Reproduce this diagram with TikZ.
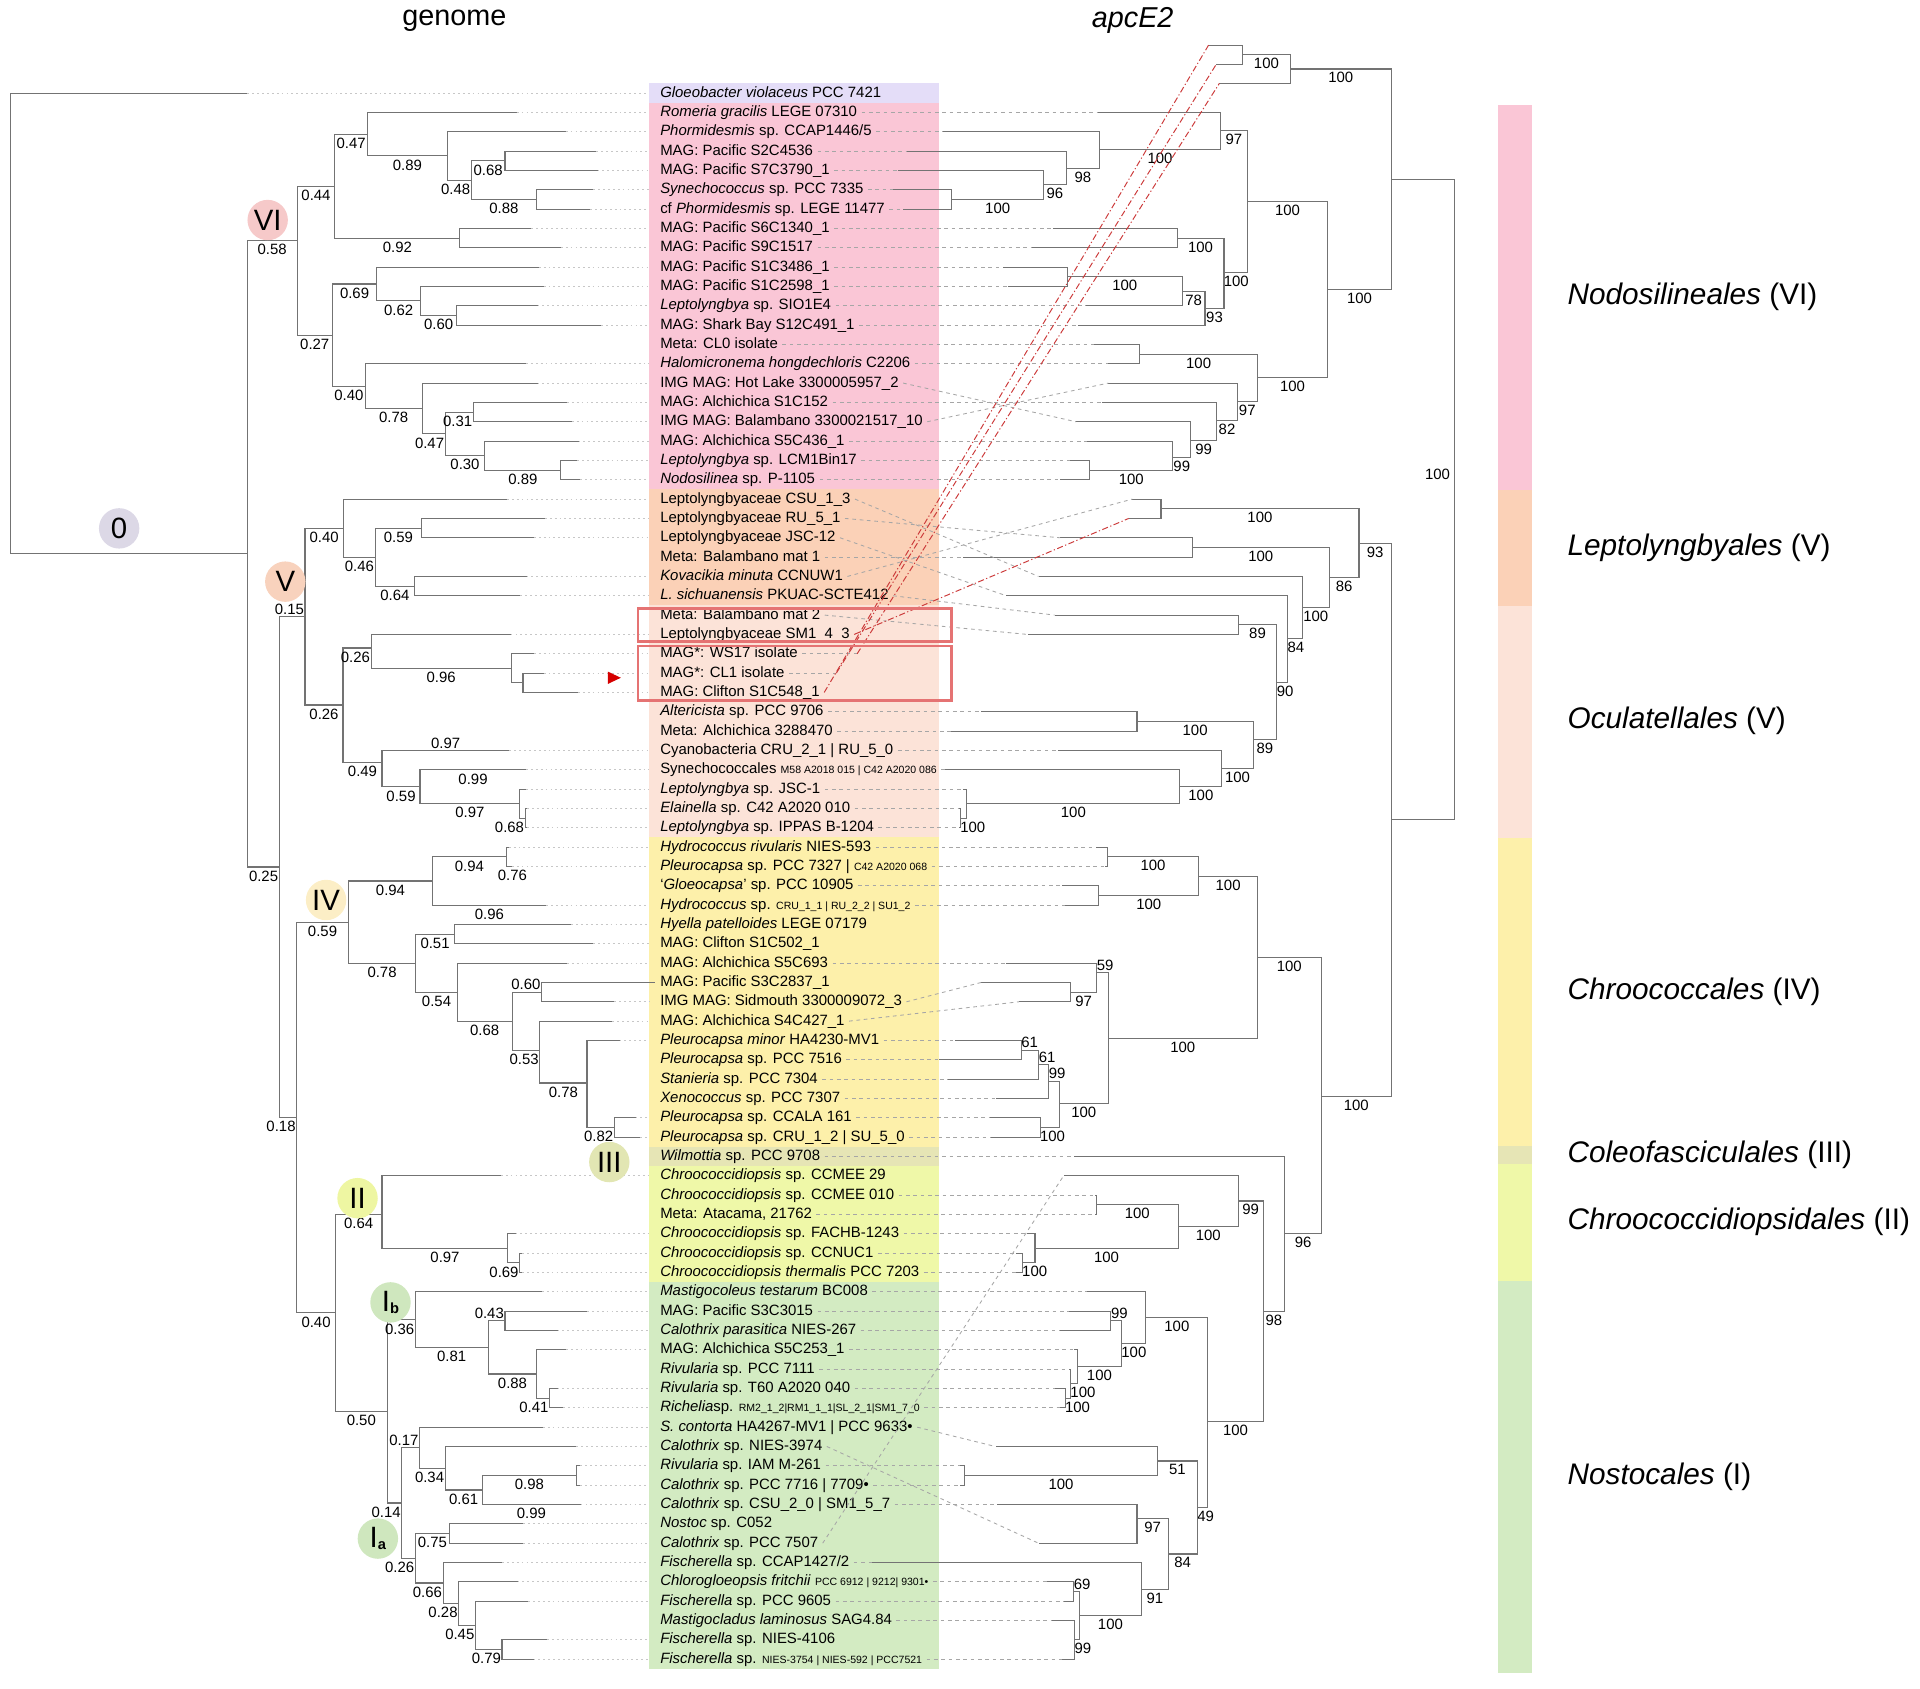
\documentclass[tikz,border=0pt]{standalone}
\usepackage{fontspec}
\setmainfont{Liberation Sans}
\definecolor{cLav}{HTML}{E4DDF8}
\definecolor{cPink}{HTML}{FAC6D6}
\definecolor{cOra}{HTML}{FBD1B7}
\definecolor{cPea}{HTML}{FCE3D8}
\definecolor{cYel}{HTML}{FDF0AA}
\definecolor{cKha}{HTML}{E6E5B5}
\definecolor{cYG}{HTML}{EFF8A8}
\definecolor{cGre}{HTML}{D3EBC2}
\definecolor{k0}{HTML}{DCD8E6}
\definecolor{kVI}{HTML}{F6C9C9}
\definecolor{kV}{HTML}{F8D2BD}
\definecolor{kIV}{HTML}{FCEEC6}
\definecolor{kIII}{HTML}{E2E6B3}
\definecolor{kII}{HTML}{EEF6A2}
\definecolor{kI}{HTML}{CFE7BE}
\definecolor{redbox}{HTML}{E57373}
\definecolor{redln}{HTML}{CC3B3B}
\definecolor{arrowred}{HTML}{D50000}
\newcommand\rw[1]{{76+((#1)-1)*15.79}}
\newcommand\sm[1]{{\fontsize{8.6}{10}\selectfont #1}}
\newcommand\X[1]{\csname nx@#1\endcsname}
\newcommand\Y[1]{\csname ny@#1\endcsname}
\newcommand\ND[3]{\coordinate (#1) at (#2,{76+((#3)-1)*15.79});%
  \expandafter\xdef\csname nx@#1\endcsname{#2}%
  \expandafter\xdef\csname ny@#1\endcsname{\fpeval{76+((#3)-1)*15.79}}}
\newcommand\En[2]{\draw[br] (#1) |- (#2);}
\newcommand\E[3]{\draw[br] (#1) |- (#2);
  \node[lbl] (L#2) at ({min((\X{#1}+\X{#2})/2,\X{#2}-12.8)},{\Y{#2}+7.5}) {#3};}
\newcommand\Ea[3]{\draw[br] (#1) |- (#2);
  \node[lbl] (L#2) at ({min((\X{#1}+\X{#2})/2,\X{#2}-12.8)},{\Y{#2}-6.2}) {#3};}
\newcommand\F[3]{\draw[br] (#1) |- (#2);
  \ifnum#3>99 \def\lwv{10}\else\def\lwv{7}\fi
  \node[lbl] (L#2) at ({max((\X{#1}+\X{#2})/2,\X{#2}+\lwv)},{\Y{#2}+7.2}) {#3};}
\newcommand\Fa[3]{\draw[br] (#1) |- (#2);
  \ifnum#3>99 \def\lwv{10}\else\def\lwv{7}\fi
  \node[lbl] (L#2) at ({max((\X{#1}+\X{#2})/2,\X{#2}+\lwv)},{\Y{#2}-6.2}) {#3};}
\tikzset{
  br/.style={draw=black!55, line width=0.9pt},
  lbl/.style={font=\fontsize{12.2}{13}\selectfont, inner sep=0pt},
  tx/.style={anchor=west, inner xsep=2pt, inner ysep=0pt, text height=9pt, text depth=2.5pt, font=\fontsize{12.2}{14}\selectfont},
  dotl/.style={draw=black!22, line width=0.7pt, dash pattern=on 1.5pt off 2.5pt},
  dashl/.style={draw=black!35, line width=0.7pt, dash pattern=on 3pt off 3pt},
  redl/.style={draw=redln, line width=0.8pt, dash pattern=on 5pt off 2pt on 1pt off 2pt},
  circ/.style={circle, minimum size=33pt, inner sep=0pt, font=\fontsize{24}{24}\selectfont},
  lg/.style={anchor=west, inner sep=0pt, font=\fontsize{24.3}{26}\selectfont},
  hd/.style={inner sep=0pt, font=\fontsize{23.5}{26}\selectfont}
}
\begin{document}
\begin{tikzpicture}[x=1pt,y=-1pt]
\useasboundingbox (0,0) rectangle (1568,1379);
% ---------- label column backgrounds
\fill[cLav] (530,\rw{0.5}) rectangle (767,\rw{1.5});
\fill[cPink] (530,\rw{1.5}) rectangle (767,\rw{21.5});
\fill[cOra] (530,\rw{21.5}) rectangle (767,\rw{27.5});
\fill[cPea] (530,\rw{27.5}) rectangle (767,\rw{39.5});
\fill[cYel] (530,\rw{39.5}) rectangle (767,\rw{55.5});
\fill[cKha] (530,\rw{55.5}) rectangle (767,\rw{56.5});
\fill[cYG] (530,\rw{56.5}) rectangle (767,\rw{62.5});
\fill[cGre] (530,\rw{62.5}) rectangle (767,\rw{82.5});
% ---------- headers
\node[hd] (hg) at (371,17) {genome};
\node[hd, font=\fontsize{23.5}{26}\selectfont\itshape] (ha) at (925,17) {apcE2};
% ---------- taxon labels
\node[tx] (t1) at (537,\rw{1}) {\textit{Gloeobacter violaceus} PCC 7421};
\node[tx] (t2) at (537,\rw{2}) {\textit{Romeria gracilis} LEGE 07310};
\node[tx] (t3) at (537,\rw{3}) {\textit{Phormidesmis} sp. CCAP1446/5};
\node[tx] (t4) at (537,\rw{4}) {MAG: Pacific S2C4536};
\node[tx] (t5) at (537,\rw{5}) {MAG: Pacific S7C3790\_1};
\node[tx] (t6) at (537,\rw{6}) {\textit{Synechococcus} sp. PCC 7335};
\node[tx] (t7) at (537,\rw{7}) {cf \textit{Phormidesmis} sp. LEGE 11477};
\node[tx] (t8) at (537,\rw{8}) {MAG: Pacific S6C1340\_1};
\node[tx] (t9) at (537,\rw{9}) {MAG: Pacific S9C1517};
\node[tx] (t10) at (537,\rw{10}) {MAG: Pacific S1C3486\_1};
\node[tx] (t11) at (537,\rw{11}) {MAG: Pacific S1C2598\_1};
\node[tx] (t12) at (537,\rw{12}) {\textit{Leptolyngbya} sp. SIO1E4};
\node[tx] (t13) at (537,\rw{13}) {MAG: Shark Bay S12C491\_1};
\node[tx] (t14) at (537,\rw{14}) {Meta: CL0 isolate};
\node[tx] (t15) at (537,\rw{15}) {\textit{Halomicronema hongdechloris} C2206};
\node[tx] (t16) at (537,\rw{16}) {IMG MAG: Hot Lake 3300005957\_2};
\node[tx] (t17) at (537,\rw{17}) {MAG: Alchichica S1C152};
\node[tx] (t18) at (537,\rw{18}) {IMG MAG: Balambano 3300021517\_10};
\node[tx] (t19) at (537,\rw{19}) {MAG: Alchichica S5C436\_1};
\node[tx] (t20) at (537,\rw{20}) {\textit{Leptolyngbya} sp. LCM1Bin17};
\node[tx] (t21) at (537,\rw{21}) {\textit{Nodosilinea} sp. P-1105};
\node[tx] (t22) at (537,\rw{22}) {Leptolyngbyaceae CSU\_1\_3};
\node[tx] (t23) at (537,\rw{23}) {Leptolyngbyaceae RU\_5\_1};
\node[tx] (t24) at (537,\rw{24}) {Leptolyngbyaceae JSC-12};
\node[tx] (t25) at (537,\rw{25}) {Meta: Balambano mat 1};
\node[tx] (t26) at (537,\rw{26}) {\textit{Kovacikia minuta} CCNUW1};
\node[tx] (t27) at (537,\rw{27}) {\textit{L. sichuanensis} PKUAC-SCTE412};
\node[tx] (t28) at (537,\rw{28}) {Meta: Balambano mat 2};
\node[tx] (t29) at (537,\rw{29}) {Leptolyngbyaceae SM1\_4\_3};
\node[tx] (t30) at (537,\rw{30}) {MAG*: WS17 isolate};
\node[tx] (t31) at (537,\rw{31}) {MAG*: CL1 isolate};
\node[tx] (t32) at (537,\rw{32}) {MAG: Clifton S1C548\_1};
\node[tx] (t33) at (537,\rw{33}) {\textit{Altericista} sp. PCC 9706};
\node[tx] (t34) at (537,\rw{34}) {Meta: Alchichica 3288470};
\node[tx] (t35) at (537,\rw{35}) {Cyanobacteria CRU\_2\_1 | RU\_5\_0};
\node[tx] (t36) at (537,\rw{36}) {Synechococcales \sm{M58 A2018 015 | C42 A2020 086}};
\node[tx] (t37) at (537,\rw{37}) {\textit{Leptolyngbya} sp. JSC-1};
\node[tx] (t38) at (537,\rw{38}) {\textit{Elainella} sp. C42 A2020 010};
\node[tx] (t39) at (537,\rw{39}) {\textit{Leptolyngbya} sp. IPPAS B-1204};
\node[tx] (t40) at (537,\rw{40}) {\textit{Hydrococcus rivularis} NIES-593};
\node[tx] (t41) at (537,\rw{41}) {\textit{Pleurocapsa} sp. PCC 7327 | \sm{C42 A2020 068}};
\node[tx] (t42) at (537,\rw{42}) {`\textit{Gloeocapsa}' sp. PCC 10905};
\node[tx] (t43) at (537,\rw{43}) {\textit{Hydrococcus} sp. \sm{CRU\_1\_1 | RU\_2\_2 | SU1\_2}};
\node[tx] (t44) at (537,\rw{44}) {\textit{Hyella patelloides} LEGE 07179};
\node[tx] (t45) at (537,\rw{45}) {MAG: Clifton S1C502\_1};
\node[tx] (t46) at (537,\rw{46}) {MAG: Alchichica S5C693};
\node[tx] (t47) at (537,\rw{47}) {MAG: Pacific S3C2837\_1};
\node[tx] (t48) at (537,\rw{48}) {IMG MAG: Sidmouth 3300009072\_3};
\node[tx] (t49) at (537,\rw{49}) {MAG: Alchichica S4C427\_1};
\node[tx] (t50) at (537,\rw{50}) {\textit{Pleurocapsa minor} HA4230-MV1};
\node[tx] (t51) at (537,\rw{51}) {\textit{Pleurocapsa} sp. PCC 7516};
\node[tx] (t52) at (537,\rw{52}) {\textit{Stanieria} sp. PCC 7304};
\node[tx] (t53) at (537,\rw{53}) {\textit{Xenococcus} sp. PCC 7307};
\node[tx] (t54) at (537,\rw{54}) {\textit{Pleurocapsa} sp. CCALA 161};
\node[tx] (t55) at (537,\rw{55}) {\textit{Pleurocapsa} sp. CRU\_1\_2 | SU\_5\_0};
\node[tx] (t56) at (537,\rw{56}) {\textit{Wilmottia} sp. PCC 9708};
\node[tx] (t57) at (537,\rw{57}) {\textit{Chroococcidiopsis} sp. CCMEE 29};
\node[tx] (t58) at (537,\rw{58}) {\textit{Chroococcidiopsis} sp. CCMEE 010};
\node[tx] (t59) at (537,\rw{59}) {Meta: Atacama, 21762};
\node[tx] (t60) at (537,\rw{60}) {\textit{Chroococcidiopsis} sp. FACHB-1243};
\node[tx] (t61) at (537,\rw{61}) {\textit{Chroococcidiopsis} sp. CCNUC1};
\node[tx] (t62) at (537,\rw{62}) {\textit{Chroococcidiopsis thermalis} PCC 7203};
\node[tx] (t63) at (537,\rw{63}) {\textit{Mastigocoleus testarum} BC008};
\node[tx] (t64) at (537,\rw{64}) {MAG: Pacific S3C3015};
\node[tx] (t65) at (537,\rw{65}) {\textit{Calothrix parasitica} NIES-267};
\node[tx] (t66) at (537,\rw{66}) {MAG: Alchichica S5C253\_1};
\node[tx] (t67) at (537,\rw{67}) {\textit{Rivularia} sp. PCC 7111};
\node[tx] (t68) at (537,\rw{68}) {\textit{Rivularia} sp. T60 A2020 040};
\node[tx] (t69) at (537,\rw{69}) {\textit{Richelia}sp. \sm{RM2\_1\_2|RM1\_1\_1|SL\_2\_1|SM1\_7\_0}};
\node[tx] (t70) at (537,\rw{70}) {\textit{S. contorta} HA4267-MV1 | PCC 9633•};
\node[tx] (t71) at (537,\rw{71}) {\textit{Calothrix} sp. NIES-3974};
\node[tx] (t72) at (537,\rw{72}) {\textit{Rivularia} sp. IAM M-261};
\node[tx] (t73) at (537,\rw{73}) {\textit{Calothrix} sp. PCC 7716 | 7709•};
\node[tx] (t74) at (537,\rw{74}) {\textit{Calothrix} sp. CSU\_2\_0 | SM1\_5\_7};
\node[tx] (t75) at (537,\rw{75}) {\textit{Nostoc} sp. C052};
\node[tx] (t76) at (537,\rw{76}) {\textit{Calothrix} sp. PCC 7507};
\node[tx] (t77) at (537,\rw{77}) {\textit{Fischerella} sp. CCAP1427/2};
\node[tx] (t78) at (537,\rw{78}) {\textit{Chlorogloeopsis fritchii} \sm{PCC 6912 | 9212| 9301•}};
\node[tx] (t79) at (537,\rw{79}) {\textit{Fischerella} sp. PCC 9605};
\node[tx] (t80) at (537,\rw{80}) {\textit{Mastigocladus laminosus} SAG4.84};
\node[tx] (t81) at (537,\rw{81}) {\textit{Fischerella} sp. NIES-4106};
\node[tx] (t82) at (537,\rw{82}) {\textit{Fischerella} sp. \sm{NIES-3754 | NIES-592 | PCC7521}};

% ================= GENOME TREE (left)
\ND{root}{8.6}{12.9}
\ND{R1}{202}{24.8}
\ND{g1}{202}{1}
\ND{n058}{242.6}{8.62}
\ND{n044}{273.5}{5.81}
\ND{n027}{271.5}{13.52}
\ND{n047a}{300}{3.125}
\ND{n092}{375.6}{8.5}
\ND{n089a}{365.3}{4.25}
\ND{n048}{384.9}{5.5}
\ND{n068}{412.4}{4.5}
\ND{n088}{438.1}{6.5}
\ND{n069}{307.6}{10.875}
\ND{n062}{343.6}{11.75}
\ND{n060}{372.9}{12.5}
\ND{n040a}{298.3}{16.16}
\ND{n078}{344.7}{17.31}
\ND{n047b}{363.6}{18.625}
\ND{n031}{386.6}{17.5}
\ND{n030}{395.9}{19.75}
\ND{n089b}{458.1}{20.5}
\ND{g2}{422}{2}\ND{g3}{462}{3}\ND{g4}{487}{4}\ND{g5}{488}{5}\ND{g6}{484.5}{6}
\ND{g7}{482}{7}\ND{g8}{434}{8}\ND{g9}{458}{9}\ND{g10}{440}{10}\ND{g11}{444}{11}
\ND{g12}{439}{12}\ND{g13}{491}{13}\ND{g15}{429.6}{15}\ND{g16}{439}{16}\ND{g17}{463}{17}
\ND{g18}{467}{18}\ND{g19}{472.5}{19}\ND{g20}{471.5}{20}\ND{g21}{474}{21}
\En{root}{g1}\En{root}{R1}
\E{R1}{n058}{0.58}
\E{n058}{n044}{0.44}
\E{n058}{n027}{0.27}
\E{n044}{n047a}{0.47}
\E{n044}{n092}{0.92}
\En{n047a}{g2}
\E{n047a}{n089a}{0.89}
\En{n089a}{g3}
\E{n089a}{n048}{0.48}
\E{n048}{n068}{0.68}
\E{n048}{n088}{0.88}
\En{n068}{g4}\En{n068}{g5}
\En{n088}{g6}\En{n088}{g7}
\En{n092}{g8}\En{n092}{g9}
\E{n027}{n069}{0.69}
\E{n027}{n040a}{0.40}
\En{n069}{g10}
\E{n069}{n062}{0.62}
\En{n062}{g11}
\E{n062}{n060}{0.60}
\En{n060}{g12}\En{n060}{g13}
\En{n040a}{g15}
\E{n040a}{n078}{0.78}
\En{n078}{g16}
\E{n078}{n047b}{0.47}
\E{n047b}{n031}{0.31}
\En{n031}{g17}\En{n031}{g18}
\E{n047b}{n030}{0.30}
\En{n030}{g19}
\E{n030}{n089b}{0.89}
\En{n089b}{g20}\En{n089b}{g21}
% V
\ND{R2}{228.5}{41.03}
\ND{n015}{249.1}{28.08}
\ND{n040b}{280.4}{23.5}
\ND{n046}{306.5}{25}
\ND{n059a}{344.3}{23.5}
\ND{n064}{338.5}{26.5}
\ND{n026b}{280.1}{32.65}
\ND{n026a}{303.1}{29.7}
\ND{n096}{417.5}{30.75}
\ND{ncl}{427.1}{31.5}
\ND{n049}{312}{35.6}
\ND{n059b}{343}{36.88}
\ND{n097c}{424.4}{37.75}
\ND{n068b}{428.9}{38.5}
\ND{g22}{414}{22}\ND{g23}{445}{23}\ND{g24}{436}{24}\ND{g26}{430}{26}\ND{g27}{425}{27}
\ND{g29}{417}{29}\ND{g30}{436}{30}\ND{g31}{444}{31}\ND{g32}{472}{32}\ND{g35}{416}{35}
\ND{g36}{429.6}{36}\ND{g37}{429.6}{37}\ND{g38}{430.5}{38}\ND{g39}{430.5}{39}
\E{R1}{R2}{0.25}
\Ea{R2}{n015}{0.15}
\E{n015}{n040b}{0.40}
\En{n040b}{g22}
\E{n040b}{n046}{0.46}
\E{n046}{n059a}{0.59}
\En{n059a}{g23}\En{n059a}{g24}
\E{n046}{n064}{0.64}
\En{n064}{g26}\En{n064}{g27}
\E{n015}{n026b}{0.26}
\E{n026b}{n026a}{0.26}
\En{n026a}{g29}
\E{n026a}{n096}{0.96}
\En{n096}{g30}
\En{n096}{ncl}
\En{ncl}{g31}\En{ncl}{g32}
\E{n026b}{n049}{0.49}
\Ea{n049}{g35}{0.97}
\E{n049}{n059b}{0.59}
\E{n059b}{g36}{0.99}
\E{n059b}{n097c}{0.97}
\En{n097c}{g37}
\E{n097c}{n068b}{0.68}
\En{n068b}{g38}\En{n068b}{g39}
% IV
\ND{n018}{242.3}{53.98}
\ND{nIV}{284.5}{43.875}
\ND{n094b}{353.3}{41.75}
\ND{n094a}{413.4}{40.5}
\ND{n078b}{339.5}{46.0}
\ND{n051}{371.1}{44.5}
\ND{n054}{373.5}{47.5}
\ND{n068c}{418.2}{49.0}
\ND{n060b}{442.3}{47.5}
\ND{n053}{440.9}{50.5}
\ND{n078c}{479.4}{52.2}
\ND{n082}{501.7}{54.5}
\ND{g40}{415.5}{40}\ND{g41}{418}{41}\ND{g43}{446}{43}\ND{g44}{466.7}{44}\ND{g45}{484.5}{45}
\ND{g46}{463}{46}\ND{g47}{535}{47}\ND{g48}{501.7}{48}\ND{g49}{500}{49}\ND{g50}{506}{50}
\ND{g54}{519}{54}\ND{g55}{523}{55}
\E{R2}{n018}{0.18}
\E{n018}{nIV}{0.59}
\E{nIV}{n094b}{0.94}
\E{n094b}{n094a}{0.94}
\En{n094a}{g40}
\En{n094a}{g41}
\node[lbl] (L076) at (418.5,715) {0.76};
\E{n094b}{g43}{0.96}
\E{nIV}{n078b}{0.78}
\E{n078b}{n051}{0.51}
\En{n051}{g44}\En{n051}{g45}
\E{n078b}{n054}{0.54}
\En{n054}{g46}
\E{n054}{n068c}{0.68}
\Ea{n068c}{n060b}{0.60}
\En{n060b}{g47}\En{n060b}{g48}
\E{n068c}{n053}{0.53}
\En{n053}{g49}
\E{n053}{n078c}{0.78}
\En{n078c}{g50}
\E{n078c}{n082}{0.82}
\En{n082}{g54}\En{n082}{g55}
% II
\ND{n040c}{273.9}{64.08}
\ND{n064b}{312}{59.0}
\ND{n097d}{414.8}{60.75}
\ND{n069c}{424.4}{61.5}
\ND{g57}{409}{57}\ND{g60}{421}{60}\ND{g61}{426.5}{61}\ND{g62}{426.5}{62}
\E{n018}{n040c}{0.40}
\E{n040c}{n064b}{0.64}
\En{n064b}{g57}
\E{n064b}{n097d}{0.97}
\En{n097d}{g60}
\E{n097d}{n069c}{0.69}
\En{n069c}{g61}\En{n069c}{g62}
% I
\ND{n050}{316.2}{69.17}
\ND{nIb}{339.2}{64.44}
\ND{n081}{398.6}{65.875}
\ND{n043}{412.4}{64.5}
\ND{n088b}{438.5}{67.25}
\ND{n041}{448.8}{68.5}
\ND{n014}{328.2}{73.92}
\ND{n017}{342.6}{71.07}
\ND{n034}{363.6}{72.13}
\ND{n061}{393.8}{73.25}
\ND{n098}{470.8}{72.5}
\ND{n026c}{339.2}{76.78}
\ND{n075}{367}{75.5}
\ND{n066}{361.9}{78.06}
\ND{n028}{374.6}{79.125}
\ND{n045}{388.3}{80.25}
\ND{n079}{410}{81.5}
\ND{g63}{442.6}{63}\ND{g64}{479.4}{64}\ND{g65}{455.3}{65}\ND{g66}{462.2}{66}\ND{g68}{455.3}{68}
\ND{g69}{459.8}{69}\ND{g70}{443.3}{70}\ND{g71}{470.8}{71}\ND{g72}{474}{72}\ND{g73}{474}{73}
\ND{g74}{474.2}{74}\ND{g75}{427.1}{75}\ND{g76}{427.1}{76}\ND{g77}{410}{77}\ND{g78}{422.7}{78}
\ND{g79}{431.3}{79}\ND{g81}{446.7}{81}\ND{g82}{435.7}{82}
\E{n040c}{n050}{0.50}
\E{n050}{nIb}{0.36}
\En{nIb}{g63}
\E{nIb}{n081}{0.81}
\Ea{n081}{n043}{0.43}
\En{n043}{g64}\En{n043}{g65}
\E{n081}{n088b}{0.88}
\En{n088b}{g66}
\E{n088b}{n041}{0.41}
\En{n041}{g68}\En{n041}{g69}
\E{n050}{n014}{0.14}
\Ea{n014}{n017}{0.17}
\En{n017}{g70}
\E{n017}{n034}{0.34}
\En{n034}{g71}
\E{n034}{n061}{0.61}
\E{n061}{n098}{0.98}
\En{n098}{g72}\En{n098}{g73}
\E{n061}{g74}{0.99}
\E{n014}{n026c}{0.26}
\E{n026c}{n075}{0.75}
\En{n075}{g75}\En{n075}{g76}
\E{n026c}{n066}{0.66}
\En{n066}{g77}
\E{n066}{n028}{0.28}
\En{n028}{g78}
\E{n028}{n045}{0.45}
\En{n045}{g79}
\E{n045}{n079}{0.79}
\En{n079}{g81}\En{n079}{g82}
% dotted leaders (genome side)
\foreach \i in {1,2,3,4,5,6,7,8,9,10,11,12,13,15,16,17,18,19,20,21,22,23,24,26,27,29,30,31,32,35,36,37,38,39,40,41,43,44,45,46,48,49,50,54,55,57,60,61,62,63,64,65,66,68,69,70,71,72,73,74,75,76,77,78,79,81,82}
  {\draw[dotl] (g\i) -- (530,\rw{\i});}

% ================= apcE2 TREE (right)
\ND{RR}{1187.9}{22.02}
\ND{Na}{1136.1}{5.47}
\ND{Nb}{1136.1}{38.58}
\ND{Nc}{1053.7}{-0.245}
\ND{Nd}{1014.8}{-0.99}
\ND{aA}{987}{-1.48}
\ND{aB}{993.4}{-0.5}
\ND{aC}{995.8}{0.5}
\ND{Ne}{1084.4}{11.17}
\ND{Nf}{1018.6}{6.63}
\ND{Ng}{1026.8}{15.72}
\ND{Nh}{996.7}{2.955}
\ND{Ni}{898.1}{3.93}
\ND{Nj}{870.6}{4.88}
\ND{Nk}{852.5}{5.75}
\ND{Nl}{777}{6.5}
\ND{Nm}{999.6}{10.3}
\ND{Nn}{961.3}{8.5}
\ND{No}{984.1}{12.12}
\ND{Np}{965.6}{11.25}
\ND{Nq}{871.5}{10.5}
\ND{Nr}{930.9}{14.5}
\ND{Ns}{1010.4}{16.95}
\ND{Nt}{993.7}{17.93}
\ND{Nu}{972.4}{18.95}
\ND{Nv}{957.8}{19.85}
\ND{Nw}{890}{20.5}
\ND{a2}{896.4}{2}\ND{a3}{770}{3}\ND{a4}{740.4}{4}\ND{a5}{733.6}{5}\ND{a6}{729.5}{6}
\ND{a7}{737.7}{7}\ND{a8}{859.8}{8}\ND{a9}{842.3}{9}\ND{a10}{818.9}{10}\ND{a11}{823.3}{11}
\ND{a12}{887}{12}\ND{a13}{880.3}{13}\ND{a14}{893.4}{14}\ND{a15}{905.1}{15}\ND{a16}{905.1}{16}
\ND{a17}{900}{17}\ND{a18}{878.8}{18}\ND{a19}{887.6}{19}\ND{a20}{873.5}{20}\ND{a21}{865.7}{21}
\En{RR}{Na}\En{RR}{Nb}
\node[lbl] (Lroot) at (1174,387) {100};
\F{Na}{Nc}{100}\F{Nc}{Nd}{100}\En{Nd}{aA}\En{Nd}{aB}\En{Nc}{aC}
\F{Na}{Ne}{100}\F{Ne}{Nf}{100}\F{Ne}{Ng}{100}
\F{Nf}{Nh}{97}\En{Nh}{a2}\F{Nh}{Ni}{100}\En{Ni}{a3}\F{Ni}{Nj}{98}\En{Nj}{a4}
\F{Nj}{Nk}{96}\En{Nk}{a5}\F{Nk}{Nl}{100}\En{Nl}{a6}\En{Nl}{a7}
\F{Nf}{Nm}{100}\F{Nm}{Nn}{100}\En{Nn}{a8}\En{Nn}{a9}\F{Nm}{No}{93}\F{No}{Np}{78}
\F{Np}{Nq}{100}\En{Nq}{a10}\En{Nq}{a11}\En{Np}{a12}\En{No}{a13}
\F{Ng}{Nr}{100}\En{Nr}{a14}\En{Nr}{a15}\F{Ng}{Ns}{97}\En{Ns}{a16}\F{Ns}{Nt}{82}\En{Nt}{a17}
\F{Nt}{Nu}{99}\En{Nu}{a18}\F{Nu}{Nv}{99}\En{Nv}{a19}\F{Nv}{Nw}{100}\En{Nw}{a20}\En{Nw}{a21}
% Leptolyngbyales / Oculatellales
\ND{Nx}{1109.8}{24.28}
\ND{Ny}{1079.1}{52.88}
\ND{Nz}{948.1}{22.5}
\ND{NA}{1085.5}{26.05}
\ND{NB}{973.8}{24.5}
\ND{NC}{1063.6}{27.6}
\ND{ND}{1051.3}{29.23}
\ND{NE}{1042.6}{31.47}
\ND{NF}{1011.3}{28.5}
\ND{NG}{1023.5}{34.43}
\ND{NH}{928.5}{33.5}
\ND{NI}{997.8}{35.93}
\ND{NJ}{963.6}{36.87}
\ND{NK}{789.6}{37.75}
\ND{NL}{784.4}{38.5}
\ND{a22}{924.7}{22}\ND{a23}{921.8}{23}\ND{a24}{865.7}{24}\ND{a25}{786.7}{25}\ND{a26}{848.1}{26}
\ND{a27}{821.8}{27}\ND{a28}{861.3}{28}\ND{a29}{839.3}{29}\ND{a33}{801.3}{33}\ND{a34}{776.5}{34}
\ND{a35}{864.2}{35}\ND{a36}{772}{36}\ND{a37}{786.5}{37}\ND{a38}{783}{38}\ND{a39}{783}{39}
\F{Nb}{Nx}{93}\F{Nb}{Ny}{100}
\F{Nx}{Nz}{100}\En{Nz}{a22}\En{Nz}{a23}\F{Nx}{NA}{86}\F{NA}{NB}{100}\En{NB}{a24}\En{NB}{a25}
\F{NA}{NC}{100}\En{NC}{a26}\F{NC}{ND}{84}\En{ND}{a27}\F{ND}{NE}{90}\F{NE}{NF}{89}
\En{NF}{a28}\En{NF}{a29}\F{NE}{NG}{89}\F{NG}{NH}{100}\En{NH}{a33}\En{NH}{a34}
\F{NG}{NI}{100}\En{NI}{a35}\F{NI}{NJ}{100}\En{NJ}{a36}\F{NJ}{NK}{100}\En{NK}{a37}
\F{NK}{NL}{100}\En{NL}{a38}\En{NL}{a39}
% Chroococcales
\ND{NM}{1026.8}{45.7}
\ND{NN}{1049.3}{60.0}
\ND{NO}{979.1}{41.5}
\ND{NP}{904.2}{40.5}
\ND{NQ}{897.2}{42.5}
\ND{NR}{905.1}{49.89}
\ND{NS}{895.5}{46.5}
\ND{NT}{874.4}{47.5}
\ND{NU}{865.1}{53.28}
\ND{NV}{856.3}{52.1}
\ND{NW}{849.6}{54.5}
\ND{NX}{848.1}{51.25}
\ND{NY}{834.4}{50.5}
\ND{a40}{894.9}{40}\ND{a41}{902.2}{41}\ND{a42}{867.1}{42}\ND{a43}{870}{43}\ND{a46}{821.8}{46}
\ND{a47}{801.3}{47}\ND{a48}{832}{48}\ND{a50}{780}{50}\ND{a51}{767}{51}\ND{a52}{774}{52}
\ND{a53}{813}{53}\ND{a54}{808.6}{54}\ND{a55}{808.6}{55}
\F{Ny}{NM}{100}\F{Ny}{NN}{96}
\F{NM}{NO}{100}\F{NO}{NP}{100}\En{NP}{a40}\En{NP}{a41}\F{NO}{NQ}{100}\En{NQ}{a42}\En{NQ}{a43}
\F{NM}{NR}{100}\Fa{NR}{NS}{59}\En{NS}{a46}\F{NS}{NT}{97}\En{NT}{a47}\En{NT}{a48}
\F{NR}{NU}{100}\Fa{NU}{NV}{99}\Fa{NV}{NX}{61}\En{NX}{NY}
\node[lbl] (L61b) at (840.8,851) {61};
\En{NY}{a50}\En{NY}{a51}\En{NX}{a52}\En{NV}{a53}\F{NU}{NW}{100}\En{NW}{a54}\En{NW}{a55}
% Coleofasciculales / Chroococcidiopsidales / Nostocales
\ND{M98}{1031.5}{64.0}
\ND{M99}{1011.3}{58.3}
\ND{MHa}{962.1}{59.63}
\ND{MHc}{895.5}{58.5}
\ND{MHd}{845.2}{60.75}
\ND{MHe}{835}{61.5}
\ND{MHb}{986.4}{69.72}
\ND{MHf}{935.8}{64.35}
\ND{MHg}{916}{65.69}
\ND{M99b}{907.2}{64.5}
\ND{MHh}{879.7}{66.87}
\ND{MHi}{874.4}{67.75}
\ND{MHj}{870}{68.5}
\ND{M49}{977.6}{74.16}
\ND{M51}{945.5}{71.75}
\ND{MHk}{787.6}{72.5}
\ND{M84}{954.2}{76.56}
\ND{M97}{928.5}{74.72}
\ND{M91}{932}{78.4}
\ND{MHl}{881.7}{79.75}
\ND{M69}{876.8}{78.5}
\ND{M99c}{877.3}{81}
\ND{a56}{877.3}{56}\ND{a57}{868.6}{57}\ND{a58}{894.5}{58}\ND{a59}{894.5}{59}\ND{a60}{839}{60}
\ND{a61}{830}{61}\ND{a62}{830}{62}\ND{a63}{887.6}{63}\ND{a64}{873}{64}\ND{a65}{865.7}{65}
\ND{a66}{877.3}{66}\ND{a67}{873}{67}\ND{a68}{861.3}{68}\ND{a69}{866}{69}\ND{a71}{813}{71}
\ND{a72}{784}{72}\ND{a73}{784}{73}\ND{a74}{814.5}{74}\ND{a76}{848.1}{76}\ND{a77}{712}{77}
\ND{a78}{855.4}{78}\ND{a79}{868.6}{79}\ND{a80}{858.3}{80}\ND{a82}{867.1}{82}
\En{NN}{a56}\F{NN}{M98}{98}
\F{M98}{M99}{99}\En{M99}{a57}\F{M99}{MHa}{100}\F{MHa}{MHc}{100}\En{MHc}{a58}\En{MHc}{a59}
\F{MHa}{MHd}{100}\En{MHd}{a60}\F{MHd}{MHe}{100}\En{MHe}{a61}\En{MHe}{a62}
\F{M98}{MHb}{100}\F{MHb}{MHf}{100}\En{MHf}{a63}\F{MHf}{MHg}{100}\Fa{MHg}{M99b}{99}
\En{M99b}{a64}\En{M99b}{a65}\F{MHg}{MHh}{100}\En{MHh}{a66}\F{MHh}{MHi}{100}\En{MHi}{a67}
\F{MHi}{MHj}{100}\En{MHj}{a68}\En{MHj}{a69}
\F{MHb}{M49}{49}\F{M49}{M51}{51}\En{M51}{a71}\F{M51}{MHk}{100}\En{MHk}{a72}\En{MHk}{a73}
\F{M49}{M84}{84}\F{M84}{M97}{97}\En{M97}{a74}\En{M97}{a76}\F{M84}{M91}{91}\En{M91}{a77}
\F{M91}{MHl}{100}\Fa{MHl}{M69}{69}\En{M69}{a78}\En{M69}{a79}\F{MHl}{M99c}{99}
\En{M99c}{a80}\En{M99c}{a82}
% dashed connectors label -> apcE2 leaf
\foreach \s/\d in {2/2,3/3,4/4,5/5,6/6,7/7,8/8,9/9,10/10,11/11,12/12,13/13,14/14,15/15,16/18,17/17,18/16,19/19,20/20,21/21,22/26,23/24,24/27,25/25,26/22,27/28,28/29,33/33,34/34,35/35,36/36,37/37,38/38,39/39,40/40,41/41,42/42,43/43,46/46,48/47,49/48,50/50,51/51,52/52,53/53,54/54,55/55,56/56,58/58,59/59,60/60,61/61,62/62,63/63,64/64,65/65,66/66,67/67,68/68,69/69,70/71,71/76,72/72,73/73,74/74,76/57,77/77,78/78,79/79,80/80,82/82}
  {\draw[dashl] ([xshift=1.5pt]t\s.east) -- (a\d);}
% red connectors
\coordinate (r30) at (700,\rw{30});
\coordinate (r31) at (683,\rw{31});
\draw[dashl] ([xshift=1.5pt]t30.east) -- (r30);
\draw[dashl] ([xshift=1.5pt]t31.east) -- (r31);
\draw[redl] ([xshift=1.5pt]t29.east) -- (a23);
\draw[redl] (r30) -- (aC);
\draw[redl] (r31) -- (aB);
\draw[redl] ([xshift=1.5pt]t32.east) -- (aA);
% red boxes and arrow
\draw[redbox, line width=2.2pt] (521,497) rectangle (777,524);
\draw[redbox, line width=2.2pt] (521,527.5) rectangle (777,572);
\fill[arrowred] (496.5,548.5) -- (507,553.5) -- (496.5,558.5) -- cycle;
% clade circles
\node[circ, fill=k0] (c0) at (97.3,431.5) {0};
\node[circ, fill=kVI] (cVI) at (218.6,179.7) {VI};
\node[circ, fill=kV] (cV) at (233,475) {V};
\node[circ, fill=kIV] (cIV) at (266.3,735) {IV};
\node[circ, fill=kIII] (cIII) at (497.6,949) {III};
\node[circ, fill=kII] (cII) at (292,978.5) {II};
\node[circ, fill=kI] (cIb) at (318.9,1063.6) {I\raisebox{-2pt}{\fontsize{12}{12}\selectfont\bfseries b}};
\node[circ, fill=kI] (cIa) at (308.6,1256.5) {I\raisebox{-2pt}{\fontsize{12}{12}\selectfont\bfseries a}};
% legend
\fill[cPink] (1223.5,86) rectangle (1251.5,400);
\fill[cOra] (1223.5,400) rectangle (1251.5,494.5);
\fill[cPea] (1223.5,494.5) rectangle (1251.5,684);
\fill[cYel] (1223.5,684) rectangle (1251.5,935.5);
\fill[cKha] (1223.5,935.5) rectangle (1251.5,950.5);
\fill[cYG] (1223.5,950.5) rectangle (1251.5,1046);
\fill[cGre] (1223.5,1046) rectangle (1251.5,1366);
\node[lg] (lg6) at (1280,242) {\textit{Nodosilineales} (VI)};
\node[lg] (lg5a) at (1280,447) {\textit{Leptolyngbyales} (V)};
\node[lg] (lg5b) at (1280,589) {\textit{Oculatellales} (V)};
\node[lg] (lg4) at (1280,810) {\textit{Chroococcales} (IV)};
\node[lg] (lg3) at (1280,943) {\textit{Coleofasciculales} (III)};
\node[lg] (lg2) at (1280,998) {\textit{Chroococcidiopsidales} (II)};
\node[lg] (lg1) at (1280,1206) {\textit{Nostocales} (I)};
\end{tikzpicture}
\end{document}
